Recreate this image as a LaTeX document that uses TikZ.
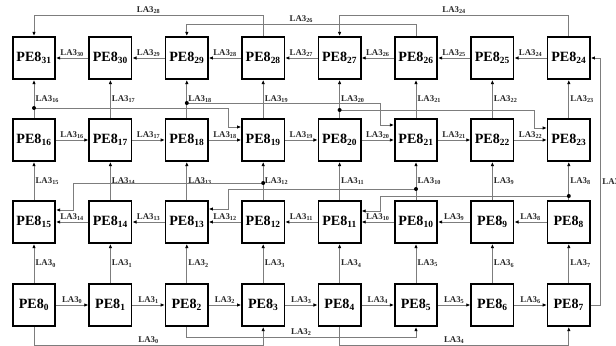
\documentclass[tikz,border=0pt]{standalone}
\usepackage{fontspec}
\setmainfont{Liberation Serif}
\usetikzlibrary{arrows.meta,calc}
\definecolor{wirecol}{RGB}{125,125,125}
\definecolor{txtcol}{RGB}{40,40,40}
\begin{document}
\begin{tikzpicture}[x=0.85pt,y=-0.85pt,
  pe/.style={draw=black,line width=1.4pt,minimum width=36pt,minimum height=36pt,inner sep=0pt,
    font=\fontsize{12}{12}\selectfont\bfseries},
  wire/.style={draw=wirecol,line width=0.7pt},
  arr/.style={wire,-{Latex[length=3.5pt,width=3pt,black]}},
  lbl/.style={font=\fontsize{7.5}{8}\selectfont\bfseries,text=txtcol,inner sep=1pt},
  dotmark/.style={fill=black}]
\useasboundingbox (0,0) rectangle (616,346);
% boxes
\foreach \i [evaluate=\i as \a using int(15-\i), evaluate=\i as \b using int(16+\i), evaluate=\i as \c using int(31-\i)] in {0,...,7} {
  \node[pe] (p\i) at ({34+76.4*\i},305) {PE8\textsubscript{\i}};
  \node[pe] (p\a) at ({34+76.4*\i},222) {PE8\textsubscript{\a}};
  \node[pe] (p\b) at ({34+76.4*\i},140) {PE8\textsubscript{\b}};
  \node[pe] (p\c) at ({34+76.4*\i},58) {PE8\textsubscript{\c}};
}
% horizontal links
\foreach \i [evaluate=\i as \j using int(\i+1)] in {0,...,6}
  \draw[arr] (p\i.east) -- node[lbl,above] {LA3\textsubscript{\i}} (p\j.west);
\foreach \i [evaluate=\i as \j using int(\i+1)] in {8,...,14}
  \draw[arr] (p\i.west) -- node[lbl,above] {LA3\textsubscript{\i}} (p\j.east);
\foreach \i [evaluate=\i as \j using int(\i+1)] in {16,...,22}
  \draw[arr] (p\i.east) -- node[lbl,above] {LA3\textsubscript{\i}} (p\j.west);
\foreach \i [evaluate=\i as \j using int(\i+1)] in {24,...,30}
  \draw[arr] (p\i.west) -- node[lbl,above] {LA3\textsubscript{\i}} (p\j.east);
% vertical links
\foreach \i [evaluate=\i as \a using int(15-\i), evaluate=\i as \b using int(16+\i), evaluate=\i as \c using int(31-\i)] in {0,...,7} {
  \draw[arr] (p\i.north) -- node[lbl,right] {LA3\textsubscript{\i}} (p\a.south);
  \draw[arr] (p\a.north) -- node[lbl,right] {LA3\textsubscript{\a}} (p\b.south);
  \draw[arr] (p\b.north) -- node[lbl,right] {LA3\textsubscript{\b}} (p\c.south);
}
% branch points
\coordinate (d16) at ($(p16.north)+(0,-10)$);
\coordinate (d18) at ($(p18.north)+(0,-15)$);
\coordinate (d20) at ($(p20.north)+(0,-8)$);
\coordinate (d12) at ($(p12.north)+(0,-17)$);
\coordinate (d10) at ($(p10.north)+(0,-11)$);
\coordinate (d8) at ($(p8.north)+(0,-4)$);
\draw[arr] (d16) -| ($(p19.west)+(-13,-13)$) -- ($(p19.west)+(0,-13)$);
\draw[arr] (d18) -| ($(p21.west)+(-14,-15)$) -- ($(p21.west)+(0,-15)$);
\draw[arr] (d20) -| ($(p23.west)+(-12,-12)$) -- ($(p23.west)+(0,-12)$);
\draw[arr] (d12) -| ($(p15.east)+(17,-12)$) -- ($(p15.east)+(0,-12)$);
\draw[arr] (d10) -| ($(p13.east)+(20,-13)$) -- ($(p13.east)+(0,-13)$);
\draw[arr] (d8) -| ($(p11.east)+(19,-11)$) -- ($(p11.east)+(0,-11)$);
\foreach \d in {d16,d18,d20,d12,d10,d8}
  \fill[dotmark] (\d) circle (2);
% long links bottom
\draw[arr] (p0.south) -- ++(0,18) -| node[lbl,above,pos=0.25] {LA3\textsubscript{0}} (p3.south);
\draw[arr] (p2.south) -- ++(0,10) -| node[lbl,above,pos=0.25] {LA3\textsubscript{2}} (p5.south);
\draw[arr] (p4.south) -- ++(0,18) -| node[lbl,above,pos=0.25] {LA3\textsubscript{4}} (p7.south);
% right link
\draw[arr] (p7.east) -- ++(10,0) |- node[lbl,right,pos=0.25] {LA3} (p24.east);
% long links top
\draw[arr] (p28.north) -- ++(0,-21) -| node[lbl,above,pos=0.25] {LA3\textsubscript{28}} (p31.north);
\draw[arr] (p26.north) -- ++(0,-12) -| node[lbl,above,pos=0.25] {LA3\textsubscript{26}} (p29.north);
\draw[arr] (p24.north) -- ++(0,-21) -| node[lbl,above,pos=0.25] {LA3\textsubscript{24}} (p27.north);
\end{tikzpicture}
\end{document}
